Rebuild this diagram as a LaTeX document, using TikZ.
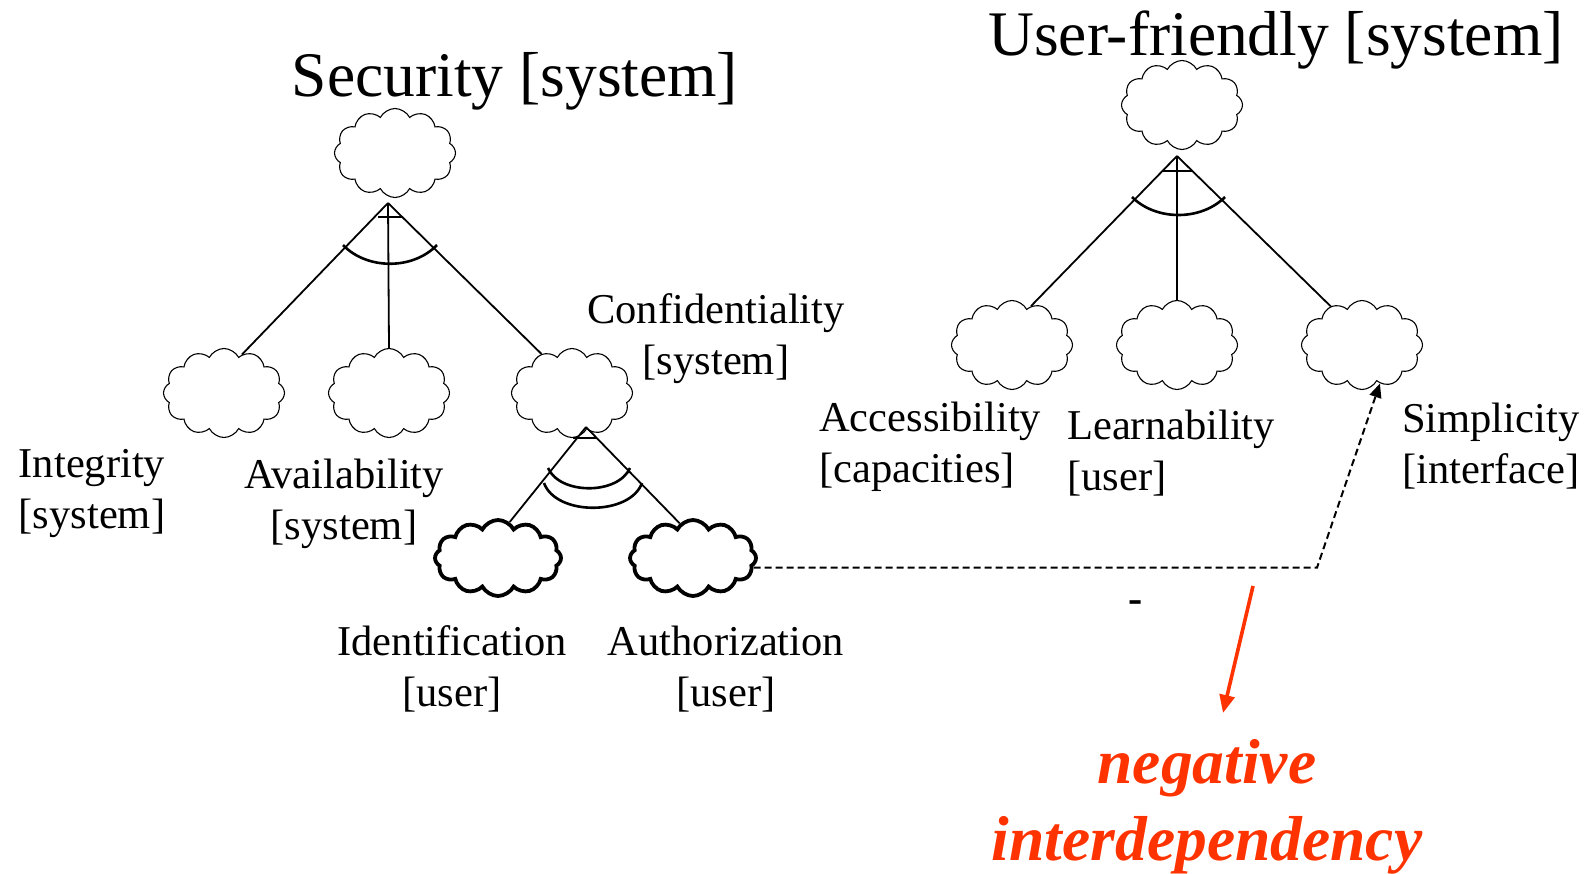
\documentclass[tikz,border=0pt]{standalone}
\usepackage{fontspec}
\setmainfont{Liberation Serif}
\usetikzlibrary{shapes.symbols,arrows.meta,calc}
\definecolor{negred}{RGB}{255,51,0}

\begin{document}
\begin{tikzpicture}[x=1pt,y=-1pt,
  softgoal/.style={cloud, cloud puffs=12, cloud puff arc=125, aspect=1.4,
    draw=black, line width=1.1pt, minimum width=121pt, minimum height=89pt, inner sep=0pt},
  hardgoal/.style={softgoal, line width=3.8pt, minimum width=126pt, minimum height=76pt},
  edge/.style={line width=1.8pt},
  andarc/.style={line width=2.6pt},
  tick/.style={line width=1.1pt},
  lbl/.style={font=\fontsize{42.5}{51}\selectfont, align=center, inner sep=0pt},
  lbll/.style={lbl, align=left, anchor=west},
  title/.style={font=\fontsize{63.5}{76}\selectfont, inner sep=0pt, anchor=base},
  note/.style={font=\fontsize{63.5}{77}\selectfont\bfseries\itshape, text=negred,
    align=center, inner sep=0pt},
  linkline/.style={line width=2pt, dash pattern=on 7pt off 4pt,
    -{Triangle[length=14pt,width=12pt]}},
  negarrow/.style={draw=negred, line width=3.6pt, -{Triangle[length=18pt,width=15pt]}}
]
\useasboundingbox (0,0) rectangle (1594,873);

% titles
\node[title] (secT) at (515,96) {Security [system]};
\node[title] (ufT) at (1276,55) {User-friendly [system]};

% security tree
\node[softgoal] (sec) at (395,153) {};
\node[softgoal] (integ) at (224,393) {};
\node[softgoal] (avail) at (389,393) {};
\node[softgoal] (conf) at (572,393) {};
\node[hardgoal] (ident) at (498,558) {};
\node[hardgoal] (auth) at (693,558) {};

\coordinate (secJ) at (388,203);
\draw[edge] (secJ) -- (integ.65);
\draw[edge] (secJ) -- (avail.north);
\draw[edge] (secJ) -- (conf.128);
\draw[tick] (378,217) -- (402,217);
\draw[andarc] (343,245) .. controls (367,270) and (413,270) .. (437,245);

\coordinate (confJ) at (586,427);
\draw[edge] (confJ) -- (ident.72);
\draw[edge] (confJ) -- (auth.111);
\draw[tick] (573,438) -- (597,438);
\draw[andarc] (548,468) .. controls (560,495) and (618,495) .. (630,468);
\draw[andarc] (544,483) .. controls (556,516) and (630,516) .. (642,483);

% user-friendly tree
\node[softgoal] (uf) at (1182,105) {};
\node[softgoal] (access) at (1012,345) {};
\node[softgoal] (learn) at (1177,345) {};
\node[softgoal] (simp) at (1362,345) {};

\coordinate (ufJ) at (1177,156);
\draw[edge] (ufJ) -- (access.64);
\draw[edge] (ufJ) -- (learn.north);
\draw[edge] (ufJ) -- (simp.129);
\draw[tick] (1162,171) -- (1192,171);
\draw[andarc] (1132,197) .. controls (1156,221) and (1201,221) .. (1225,197);

% labels
\node[lbl] (integL) at (92,494) {Integrity\\ {[system]}};
\node[lbl] (availL) at (344,504) {Availability\\ {[system]}};
\node[lbl] (confL) at (716,339) {Confidentiality\\ {[system]}};
\node[lbl] (identL) at (452,669) {Identification\\ {[user]}};
\node[lbl] (authL) at (726,669) {Authorization\\ {[user]}};
\node[lbll] (accessL) at (819,447) {Accessibility\\ {[capacities]}};
\node[lbll] (learnL) at (1067,453) {Learnability\\ {[user]}};
\node[lbll] (simpL) at (1402,446) {Simplicity\\ {[interface]}};

% negative contribution link
\coordinate (bend) at (1317,569);
\draw[linkline] (auth.-9) -- (auth.-9 -| bend) -- (simp.295);
\node[font=\fontsize{42.5}{51}\selectfont\bfseries, inner sep=0pt, anchor=base] (minus) at (1136,612) {-};

\node[note] (neg) at (1207,807) {negative\\ interdependency};
\coordinate (negFrom) at (1253,586);
\coordinate (negTo) at (1223,713);
\draw[negarrow] (negFrom) -- (negTo);
\end{tikzpicture}
\end{document}
